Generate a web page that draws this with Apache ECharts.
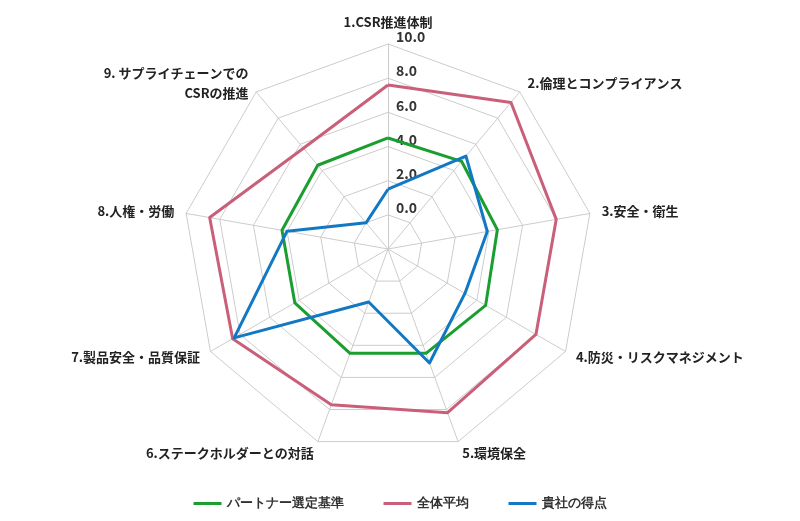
<!DOCTYPE html><html><head><meta charset="utf-8"><script src="https://cdn.jsdelivr.net/npm/echarts@6/dist/echarts.min.js"></script></head><body style="margin:0"><div id="c" style="width:800px;height:521px"></div><script>
const categories=['1.CSR推進体制','2.倫理とコンプライアンス','3.安全・衛生','4.防災・リスクマネジメント','5.環境保全','6.ステークホルダーとの対話','7.製品安全・品質保証','8.人権・労働','9. サプライチェーンでの\nCSRの推進'];
const partner=[4.5,4.7,4.5,4.6,4.5,4.5,4.3,4.3,4.4];
const average=[7.6,9.2,8.0,8.0,8.2,7.7,8.5,8.6,5.7];
const company=[1.5,5.1,3.9,3.2,5.1,1.3,8.4,4.0,0.0];
const tickLabels=['0.0','2.0','4.0','6.0','8.0','10.0'];
const names=['パートナー選定基準','全体平均','貴社の得点'];
const colors=['#1a9e2f','#c95f78','#1278c4'];
// clockwise order: keep first at top, reverse the rest
const cw=a=>[a[0]].concat(a.slice(1).reverse());
const MIN=-2,MAX=10,R=205,CX=388,CY=249;
const ch=echarts.init(document.getElementById('c'));
ch.setOption({
 animation:false,
 legend:{bottom:6,itemWidth:28,itemHeight:3,itemGap:40,icon:'rect',textStyle:{fontSize:13,fontWeight:'bold',color:'#333'},data:names},
 radar:{center:[CX,CY],radius:R,startAngle:90,splitNumber:6,shape:'polygon',
  indicator:cw(categories).map(n=>({name:n,min:MIN,max:MAX})),
  axisName:{color:'#222',fontSize:13,fontWeight:'bold',fontFamily:'Noto Sans CJK JP',lineHeight:20},
  nameGap:12,
  splitLine:{lineStyle:{color:'#ccc'}},splitArea:{show:false},axisLine:{lineStyle:{color:'#ccc'}}
 },
 graphic:tickLabels.map(t=>({type:'text',x:CX+8,y:CY-R*(parseFloat(t)-MIN)/(MAX-MIN),style:{text:t,fill:'#333',font:'bold 14px "Noto Sans CJK JP"',textVerticalAlign:'bottom'}})),
 series:[{type:'radar',symbol:'none',data:[0,1,2].map(k=>({name:names[k],value:cw([partner,average,company][k]),lineStyle:{width:3,color:colors[k]},itemStyle:{color:colors[k]}}))}]
});
</script></body></html>
